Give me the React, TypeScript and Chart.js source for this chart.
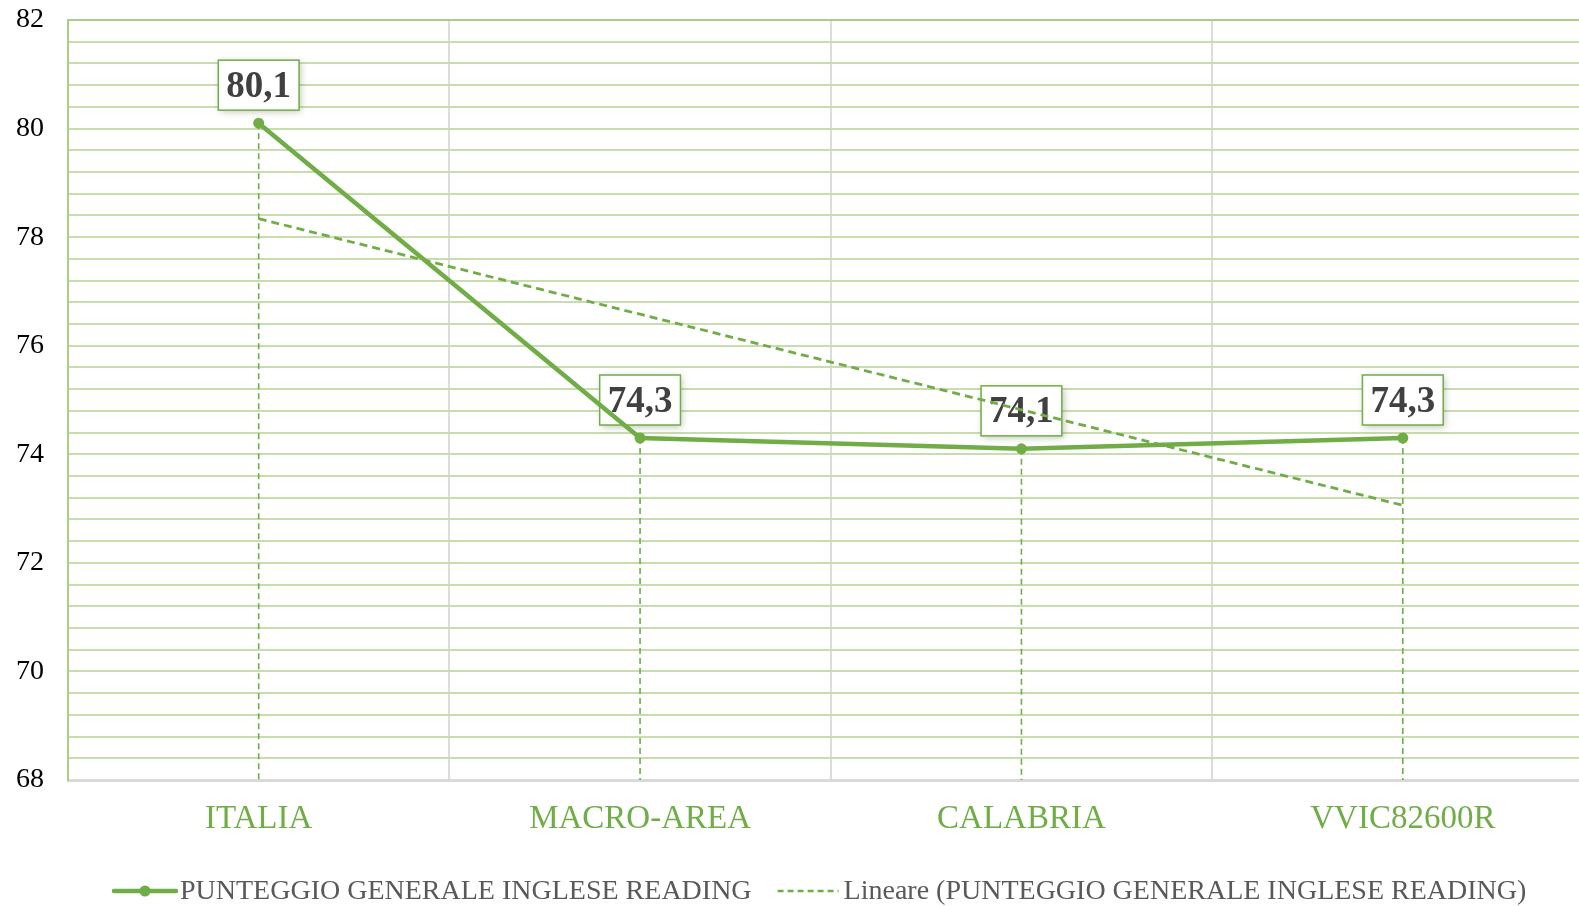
import React, { useEffect, useRef } from "react";
import { Chart, registerables } from "chart.js";

Chart.register(...registerables);

const categories = ["ITALIA", "MACRO-AREA", "CALABRIA", "VVIC82600R"];
const scores = [80.1, 74.3, 74.1, 74.3];
const trendValues = [78.34, 76.58, 74.82, 73.06];
const yMajorLabels = [68, 70, 72, 74, 76, 78, 80, 82];
const seriesName = "PUNTEGGIO GENERALE INGLESE READING";
const trendName = "Lineare (PUNTEGGIO GENERALE INGLESE READING)";

const GREEN = "#70ad47";
const SERIF = "'Liberation Serif', 'Times New Roman', serif";

const dropLinesPlugin = {
  id: "dropLines",
  beforeDatasetsDraw(chart: any) {
    const { ctx, chartArea } = chart;
    const meta = chart.getDatasetMeta(0);
    ctx.save();
    ctx.strokeStyle = GREEN;
    ctx.lineWidth = 1.6;
    ctx.setLineDash([6, 4]);
    meta.data.forEach((pt: any) => {
      ctx.beginPath();
      ctx.moveTo(pt.x, pt.y);
      ctx.lineTo(pt.x, chartArea.bottom);
      ctx.stroke();
    });
    ctx.setLineDash([]);
    ctx.font = `bold 37px ${SERIF}`;
    meta.data.forEach((pt: any, i: number) => {
      const txt = scores[i].toFixed(1).replace(".", ",");
      const w = ctx.measureText(txt).width + 16;
      const h = 50;
      const x0 = pt.x - w / 2;
      const y0 = pt.y - 13 - h;
      ctx.save();
      ctx.shadowColor = "rgba(60,90,30,0.35)";
      ctx.shadowBlur = 7;
      ctx.shadowOffsetX = 2;
      ctx.shadowOffsetY = 2;
      ctx.fillStyle = "#ffffff";
      ctx.fillRect(x0, y0, w, h);
      ctx.restore();
      ctx.strokeStyle = GREEN;
      ctx.lineWidth = 1.5;
      ctx.strokeRect(x0, y0, w, h);
      ctx.fillStyle = "#404040";
      ctx.textAlign = "center";
      ctx.textBaseline = "middle";
      ctx.fillText(txt, pt.x, y0 + h / 2 + 2);
    });
    ctx.restore();
  },
};

const legendPlugin = {
  id: "customLegend",
  afterDraw(chart: any) {
    const { ctx } = chart;
    const y = 892;
    ctx.save();
    ctx.font = `28px ${SERIF}`;
    ctx.textBaseline = "middle";
    ctx.textAlign = "left";
    let x = 114;
    ctx.strokeStyle = GREEN;
    ctx.lineWidth = 4.5;
    ctx.lineCap = "round";
    ctx.beginPath();
    ctx.moveTo(x, y - 1);
    ctx.lineTo(x + 62, y - 1);
    ctx.stroke();
    ctx.fillStyle = GREEN;
    ctx.beginPath();
    ctx.arc(x + 31, y - 1, 5.5, 0, Math.PI * 2);
    ctx.fill();
    x += 66;
    ctx.fillStyle = "#595959";
    ctx.fillText(seriesName, x, y);
    x += ctx.measureText(seriesName).width + 26;
    ctx.strokeStyle = GREEN;
    ctx.lineWidth = 2.5;
    ctx.lineCap = "butt";
    ctx.setLineDash([6, 4]);
    ctx.beginPath();
    ctx.moveTo(x, y - 1);
    ctx.lineTo(x + 61, y - 1);
    ctx.stroke();
    ctx.setLineDash([]);
    x += 66;
    ctx.fillText(trendName, x, y);
    ctx.restore();
  },
};

export default function App() {
  const ref = useRef<HTMLCanvasElement | null>(null);
  useEffect(() => {
    if (!ref.current) return;
    const chart = new Chart(ref.current, {
      type: "line",
      data: {
        labels: categories,
        datasets: [
          {
            label: seriesName,
            data: scores,
            borderColor: GREEN,
            backgroundColor: GREEN,
            borderWidth: 4.5,
            pointRadius: 5.5,
            pointHoverRadius: 5.5,
            pointBackgroundColor: GREEN,
            pointBorderWidth: 0,
            tension: 0,
            order: 1,
          },
          {
            label: trendName,
            data: trendValues,
            borderColor: GREEN,
            borderWidth: 2.8,
            borderDash: [8, 5],
            pointRadius: 0,
            tension: 0,
            order: 0,
          },
        ],
      },
      options: {
        responsive: false,
        animation: false,
        devicePixelRatio: 1,
        layout: { padding: { top: 20, right: 0, bottom: 0, left: 0 } },
        plugins: {
          legend: { display: false },
          tooltip: { enabled: false },
        },
        scales: {
          x: {
            offset: true,
            grid: {
              offset: true,
              drawTicks: false,
              color: (c: any) => (c.index === 0 ? "rgba(0,0,0,0)" : "#dcdcdc"),
              lineWidth: 2,
            },
            border: { color: "#d9d9d9", width: 3 },
            ticks: {
              color: GREEN,
              font: { family: SERIF, size: 33 },
              padding: 20,
            },
            afterFit(scale: any) {
              scale.height = 126;
            },
          },
          y: {
            min: 68,
            max: 82,
            afterBuildTicks(scale: any) {
              const t: any[] = [];
              for (let i = 0; i <= 35; i++) t.push({ value: Math.round((68 + i * 0.4) * 10) / 10 });
              scale.ticks = t;
            },
            grid: {
              drawTicks: false,
              color: (c: any) => (c.tick && c.tick.value === 82 ? "#a9cf84" : "#c8ddae"),
              lineWidth: 2,
            },
            border: { color: "#a9cf84", width: 2 },
            ticks: {
              color: "#000000",
              font: { family: SERIF, size: 28 },
              padding: 24,
              autoSkip: false,
              callback: (v: any) => (yMajorLabels.includes(Number(v)) ? String(v) : ""),
            },
            afterFit(scale: any) {
              scale.width = 68;
              scale.paddingTop = 0;
              scale.paddingBottom = 0;
            },
          },
        },
      },
      plugins: [dropLinesPlugin, legendPlugin],
    });
    return () => chart.destroy();
  }, []);

  return (
    <div
      style={{
        position: "fixed",
        left: 0,
        top: 0,
        width: 1579,
        height: 906,
        overflow: "hidden",
        background: "#ffffff",
      }}
    >
      <canvas ref={ref} width={1599} height={906} style={{ display: "block" }} />
    </div>
  );
}
